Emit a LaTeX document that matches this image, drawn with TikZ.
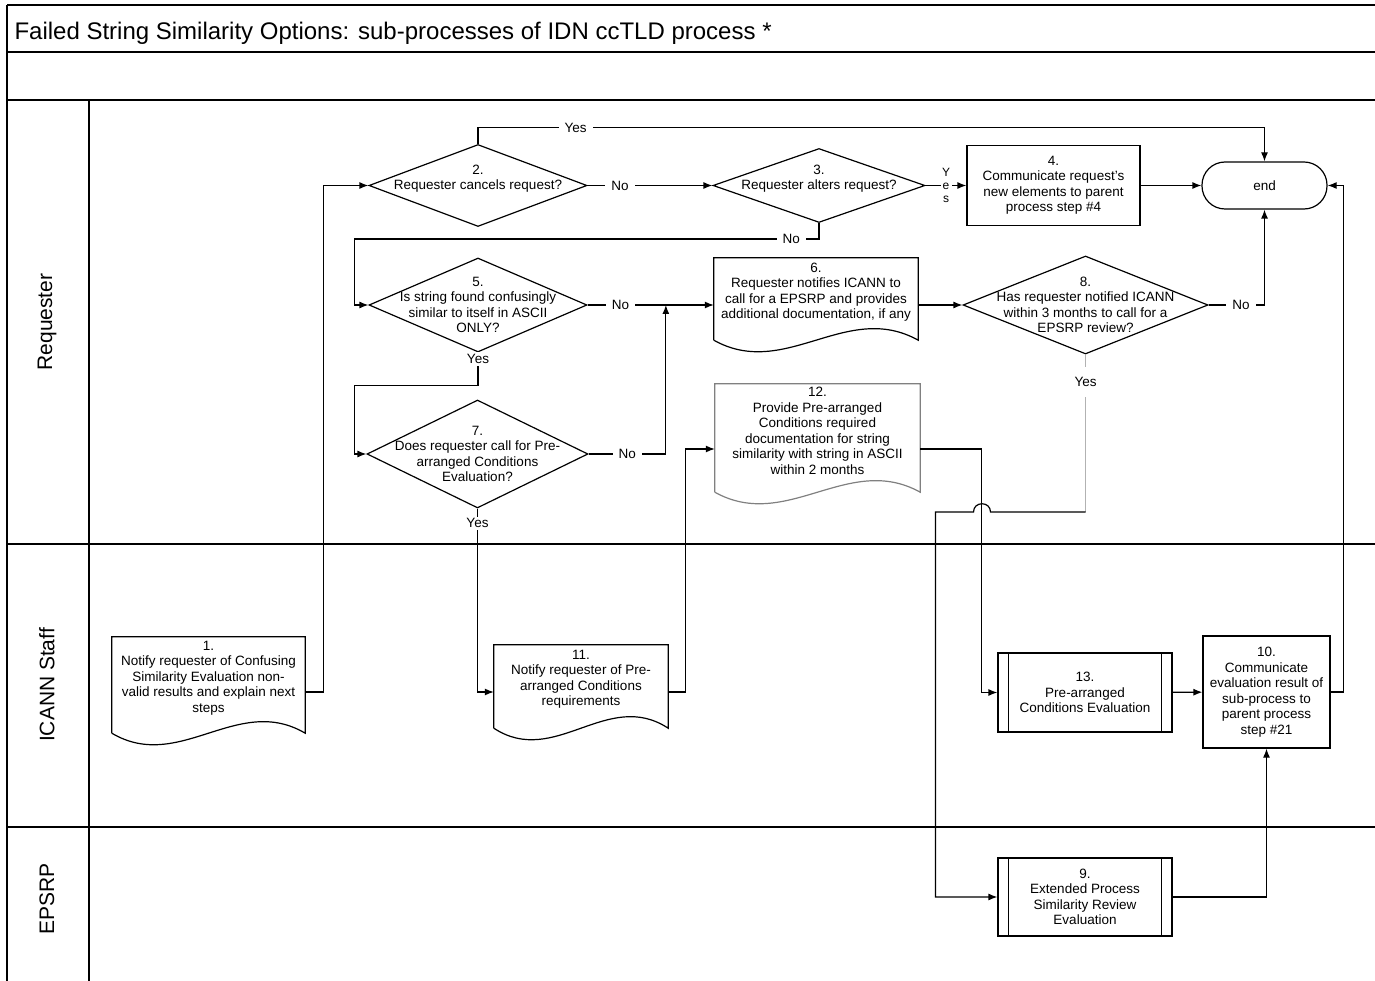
\documentclass[tikz,border=0pt]{standalone}
\usepackage{fontspec}
\setmainfont{Liberation Sans}
\usetikzlibrary{calc,arrows.meta,shapes.geometric,positioning}

% document box: straight top and sides, wavy bottom below the text
\newcommand{\docshape}[2][black]{%
  \draw[#1,line width=1.2pt] ([yshift=-14pt]#2.south west) -- (#2.north west) -- (#2.north east) -- ([yshift=-14pt]#2.south east)
    .. controls ($([yshift=-14pt]#2.south east)!0.35!([yshift=-14pt]#2.south west)+(0,-40)$) and ($([yshift=-14pt]#2.south west)!0.35!([yshift=-14pt]#2.south east)+(0,40)$) .. ([yshift=-14pt]#2.south west);}
% predefined process: extra inner sides
\newcommand{\subproc}[1]{%
  \draw[line width=1.2pt] ([xshift=11pt]#1.north west) -- ([xshift=11pt]#1.south west)
    ([xshift=-11pt]#1.north east) -- ([xshift=-11pt]#1.south east);}

\begin{document}
\begin{tikzpicture}
  [x=1pt,y=-1pt,>={Latex[length=9pt,width=7pt]},
   every node/.style={font=\fontsize{13.5}{15.5}\selectfont},
   lane/.style={line width=1.4pt},
   flow/.style={line width=1.2pt},
   box/.style={draw,line width=1.2pt,align=center,inner sep=0pt},
   doc/.style={align=center,inner sep=0pt},
   dia/.style={draw,diamond,line width=1.2pt,inner sep=0pt},
   dtext/.style={align=center,inner sep=0pt},
   lbl/.style={fill=white,align=center,inner xsep=6pt,inner ysep=2pt},
   lanelabel/.style={rotate=90,font=\fontsize{21}{25}\selectfont}]
  \path[use as bounding box,clip] (0,0) rectangle (1375,981);

  % pool and lanes
  \foreach \y in {5,52,100,544,827}
    \draw[lane] (7,\y) -- (1380,\y);
  \draw[lane] (7,5) -- (7,990);
  \draw[lane] (89,100) -- (89,990);
  \node[anchor=west,font=\fontsize{24}{28}\selectfont] (title) at (11,33) {Failed String Similarity Options: sub-processes of IDN ccTLD process *};
  \node[lanelabel] (lreq) at (47,322) {Requester};
  \node[lanelabel] (lstaff) at (47,685) {ICANN Staff};
  \node[lanelabel] (lepsrp) at (47,899) {EPSRP};

  % decisions
  \node[dia,minimum width=218,minimum height=82] (d2) at (478,185.5) {};
  \node[dtext] (t2) at ([yshift=7pt]d2.center) {2.\\Requester cancels request?};
  \node[dia,minimum width=212,minimum height=74] (d3) at (819,185.5) {};
  \node[dtext] (t3) at ([yshift=7pt]d3.center) {3.\\Requester alters request?};
  \node[dia,minimum width=218,minimum height=94] (d5) at (478,305) {};
  \node[dtext] (t5) at (d5) {5.\\Is string found confusingly\\similar to itself in ASCII\\ONLY?};
  \node[dia,minimum width=221,minimum height=108] (d7) at (477.5,454) {};
  \node[dtext] (t7) at (d7) {7.\\Does requester call for Pre-\\arranged Conditions\\Evaluation?};
  \node[dia,minimum width=245,minimum height=98] (d8) at (1085.5,305) {};
  \node[dtext] (t8) at (d8) {8.\\Has requester notified ICANN\\within 3 months to call for a\\EPSRP review?};

  % tasks
  \node[box,minimum width=173,minimum height=80] (b4) at (1053.5,185.5) {4.\\Communicate request's\\new elements to parent\\process step \#4};
  \node[box,rounded corners=23pt,minimum width=125,minimum height=47] (endt) at (1264.5,185.5) {end};
  \node[box,minimum width=127,minimum height=112] (b10) at (1266.5,692) {10.\\Communicate\\evaluation result of\\sub-process to\\parent process\\step \#21};
  \node[box,minimum width=174,minimum height=79] (b13) at (1085,692.5) {13.\\Pre-arranged\\Conditions Evaluation};
  \node[box,minimum width=174,minimum height=78] (b9) at (1085,897) {9.\\Extended Process\\Similarity Review\\Evaluation};
  \subproc{b13}
  \subproc{b9}

  % documents
  \node[doc,minimum width=193,minimum height=82] (b1) at (208.5,678) {1.\\Notify requester of Confusing\\Similarity Evaluation non-\\valid results and explain next\\steps};
  \node[doc,minimum width=174,minimum height=69] (b11) at (581,679.5) {11.\\Notify requester of Pre-\\arranged Conditions\\requirements};
  \node[doc,minimum width=204,minimum height=68] (b6) at (816,292) {6.\\Requester notifies ICANN to\\call for a EPSRP and provides\\additional documentation, if any};
  \node[doc,minimum width=205,minimum height=94] (b12) at (817.5,431) {12.\\Provide Pre-arranged\\Conditions required\\documentation for string\\similarity with string in  ASCII\\within 2 months};
  \docshape{b1}
  \docshape{b11}
  \docshape{b6}
  \docshape[gray]{b12}

  % flow
  \draw[flow,->] ([yshift=-14pt]b1.east) -- ++(18,0) |- (d2.west);
  \draw[flow,->] (d2.north) -- ++(0,-16) -| node[lbl,pos=0.062]{Yes} (endt.north);
  \draw[flow,->] (d2.east) -- node[lbl,pos=0.26]{No} (d3.west);
  \draw[flow,->] (d3.east) -- node[lbl,pos=0.5,inner xsep=1.5pt,inner ysep=0pt,font=\fontsize{12}{13}\selectfont]{Y\\e\\s} (b4.west);
  \foreach \from/\to in {b4/endt,b13/b10}
    \draw[flow,->] (\from) -- (\to);
  \draw[flow,->] (d3.south) -- ++(0,16) -| node[lbl,pos=0.03]{No} ([xshift=-14pt]d5.west) -- (d5.west);
  \draw[flow,->] (d5.east) -- node[lbl,pos=0.26]{No} (d5.east -| b6.west);
  \draw[flow,->] (b6.east |- d8.west) -- (d8.west);
  \coordinate (j6) at ($(d5.east)!0.62!(d5.east -| b6.west)$);
  \draw[flow,->] (d7.east) -| node[lbl,pos=0.25]{No} (j6);
  \draw[flow,->] (d5.south) -- node[lbl,pos=0.2]{Yes} ++(0,33) -| ([xshift=-12pt]d7.west) -- (d7.west);
  \draw[flow,->] (d7.south) |- node[lbl,pos=0.04]{Yes} ([yshift=-12.5pt]b11.west);
  \draw[flow,->] ([yshift=-12.5pt]b11.east) -- ++(17,0) |- ([yshift=-18pt]b12.west);
  \draw[flow,->] ([yshift=-18pt]b12.east) -| ([xshift=-16pt]b13.west) -- (b13.west);
  \draw[flow,->] (b9.east) -| (b10.south);
  \draw[flow,->] (b10.east) -- ++(13,0) |- (endt.east);
  \draw[flow,->] (d8.east) -| node[lbl,pos=0.29]{No} (endt.south);
  \draw[flow,gray!60] (d8.south) -- node[lbl,pos=0.175,inner ysep=10pt,text=black]{Yes} (d8.south |- 0,512);
  \draw[flow,->] (d8.south |- 0,512) -- (990.5,512) .. controls (990.5,501) and (973.5,501) .. (973.5,512)
    -| ([xshift=-62pt]b9.west) -- (b9.west);
\end{tikzpicture}
\end{document}
